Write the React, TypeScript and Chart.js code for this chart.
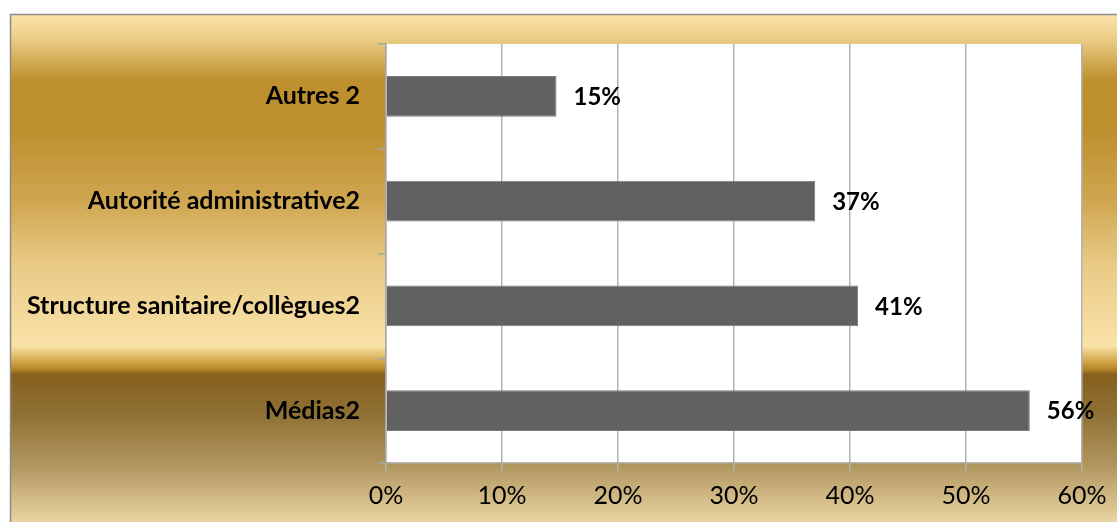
import React, { useEffect, useRef } from "react";
import { Chart, registerables } from "chart.js";

Chart.register(...registerables);

const categories = ["Autres 2", "Autorité administrative2", "Structure sanitaire/collègues2", "Médias2"];
const values = [14.7, 37.0, 40.7, 55.5];
const tickValues = [0, 10, 20, 30, 40, 50, 60];

const FONT = "Lato, 'Noto Sans', sans-serif";

const bgPlugin = {
  id: "goldBg",
  beforeDraw(chart: any) {
    const { ctx, chartArea, width, height } = chart;
    ctx.save();
    const x0 = 10;
    const y0 = 14;
    const g = ctx.createLinearGradient(0, y0, 0, height);
    const H = height - y0;
    const stop = (y: number, c: string) => g.addColorStop(Math.min(1, Math.max(0, (y - y0) / H)), c);
    stop(14, "#FBE4AA");
    stop(40, "#EACB83");
    stop(80, "#BE902E");
    stop(130, "#BD8F2D");
    stop(200, "#CFA650");
    stop(266, "#E9CB86");
    stop(346, "#F9E2A8");
    stop(352, "#EBCA82");
    stop(362, "#D0A446");
    stop(370, "#B08124");
    stop(374, "#86601E");
    stop(416, "#907236");
    stop(466, "#B19760");
    stop(522, "#EBD4A3");
    ctx.fillStyle = g;
    ctx.fillRect(x0, y0, width - x0, height - y0);
    ctx.strokeStyle = "#8C8C8C";
    ctx.lineWidth = 1.5;
    ctx.beginPath();
    ctx.moveTo(x0 + 0.5, height);
    ctx.lineTo(x0 + 0.5, y0 + 0.5);
    ctx.lineTo(width, y0 + 0.5);
    ctx.stroke();
    ctx.fillStyle = "#FFFFFF";
    ctx.fillRect(chartArea.left, chartArea.top, chartArea.right - chartArea.left, chartArea.bottom - chartArea.top);
    ctx.restore();
  },
};

const labelPlugin = {
  id: "valueLabels",
  afterDatasetsDraw(chart: any) {
    const { ctx } = chart;
    const meta = chart.getDatasetMeta(0);
    ctx.save();
    ctx.font = `bold 24px ${FONT}`;
    ctx.fillStyle = "#000000";
    ctx.textAlign = "left";
    ctx.textBaseline = "middle";
    meta.data.forEach((bar: any, i: number) => {
      const v = chart.data.datasets[0].data[i] as number;
      ctx.fillText(`${Math.round(v)}%`, bar.x + 17, bar.y + 1);
    });
    ctx.restore();
  },
};

export default function App() {
  const ref = useRef<HTMLCanvasElement | null>(null);
  useEffect(() => {
    if (!ref.current) return;
    const chart = new Chart(ref.current, {
      type: "bar",
      data: {
        labels: categories,
        datasets: [
          {
            data: values,
            backgroundColor: "#616161",
            borderColor: "#7A7A7A",
            borderWidth: 1,
            categoryPercentage: 1,
            barPercentage: 0.39,
          },
        ],
      },
      options: {
        indexAxis: "y",
        animation: false,
        responsive: false,
        maintainAspectRatio: false,
        devicePixelRatio: 1,
        layout: { padding: { left: 0, top: 44, right: 35, bottom: 0 } },
        plugins: { legend: { display: false }, tooltip: { enabled: false } },
        scales: {
          x: {
            min: 0,
            max: 60,
            afterBuildTicks(scale: any) {
              scale.ticks = tickValues.map((v) => ({ value: v }));
            },
            afterFit(scale: any) {
              scale.height = 59;
            },
            ticks: {
              callback: (v: any) => `${v}%`,
              color: "#000000",
              font: { family: FONT, size: 25 },
              padding: 10,
              maxRotation: 0,
            },
            grid: { color: "#B3B3B3", lineWidth: 1.5, tickLength: 8, drawOnChartArea: true },
            border: { display: true, color: "#B3B3B3", width: 1.5 },
          },
          y: {
            afterFit(scale: any) {
              scale.width = 386;
            },
            ticks: {
              color: "#000000",
              font: { family: FONT, size: 25, weight: "bold" },
              padding: 18,
            },
            grid: { display: true, drawOnChartArea: false, color: "#A6A6A6", lineWidth: 1.5, tickLength: 8 },
            border: { display: true, color: "#A6A6A6", width: 1.5 },
          },
        },
      },
      plugins: [bgPlugin, labelPlugin],
    });
    return () => chart.destroy();
  }, []);
  return (
    <div style={{ position: "absolute", left: 0, top: 0, width: 1117, height: 522 }}>
      <canvas ref={ref} width={1117} height={522} style={{ width: 1117, height: 522, display: "block" }} />
    </div>
  );
}
